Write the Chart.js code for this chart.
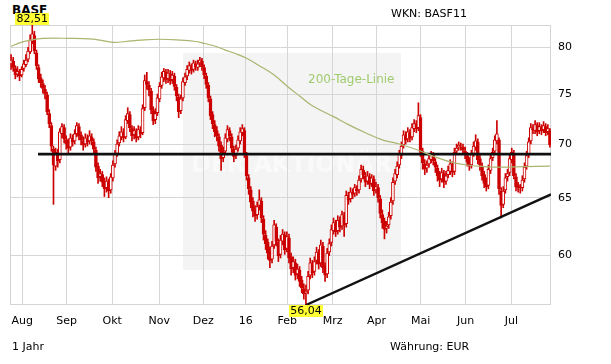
<!DOCTYPE html>
<html>
<head>
<meta charset="utf-8">
<script src="https://cdn.jsdelivr.net/npm/chart.js@4.4.0/dist/chart.umd.min.js"></script>
<style>
  body { margin: 0; background: #fff; }
  #wrap { position: relative; width: 611px; height: 364px; font-family: "DejaVu Sans", Verdana, sans-serif; }
  #chart { position: absolute; left: 0; top: 0; z-index: 1; }
  .txt { position: absolute; font-size: 11px; line-height: 13px; color: #000; white-space: nowrap; z-index: 2; }
</style>
</head>
<body>
<div id="wrap">
  <div class="txt" style="left:12px;top:4px;font-weight:bold;font-size:12px;z-index:0">BASF</div>
  <canvas id="chart" width="611" height="364"></canvas>
  <div class="txt" style="left:391px;top:7px">WKN: BASF11</div>
  <div class="txt" style="left:308px;top:72px;font-size:12px;line-height:15px;color:#9fcb6e">200-Tage-Linie</div>
  <div class="txt" style="left:12px;top:340px">1 Jahr</div>
  <div class="txt" style="left:390px;top:340px">Währung: EUR</div>
</div>
<script>
// Tageskerzen (Handelstage Ende Juli 2015 bis Mitte Juli 2016)
const eroeffnung = [
  78.2, 78.5, 77.7, 77.1, 77.3, 77.0, 77.7, 78.1, 78.7, 79.5, 80.7, 81.3, 79.4, 77.8, 76.7,
  76.1, 75.5, 74.9, 73.0, 71.8, 69.5, 67.9, 69.1, 68.5, 71.0, 71.6, 70.4, 70.1, 69.7, 70.5,
  70.3, 71.0, 71.7, 70.9, 70.3, 70.0, 70.5, 70.3, 70.7, 70.2, 69.4, 67.9, 66.9, 67.1, 66.5,
  65.9, 66.4, 65.7, 66.8, 68.1, 69.1, 70.1, 70.7, 71.1, 70.7, 72.3, 72.9, 71.5, 70.9, 71.2,
  70.7, 71.3, 71.1, 73.6, 76.3, 75.9, 75.3, 73.3, 72.4, 73.1, 74.5, 75.9, 76.7, 77.3, 76.6,
  77.1, 76.5, 76.9, 75.7, 74.7, 73.3, 74.6, 76.2, 76.9, 77.5, 77.9, 77.6, 78.2, 77.8, 78.3,
  78.5, 77.8, 76.9, 75.9, 74.5, 72.9, 71.9, 71.3, 70.7, 69.9, 68.7, 69.3, 70.5, 71.3, 70.7,
  69.5, 68.9, 69.6, 70.3, 71.1, 71.3, 68.9, 66.8, 65.7, 64.7, 63.9, 63.5, 64.3, 64.7, 63.1,
  61.7, 61.1, 60.3, 59.7, 60.9, 62.4, 61.1, 60.1, 61.2, 61.7, 60.6, 61.5, 59.9, 59.0, 59.4,
  58.5, 58.8, 58.0, 57.3, 57.0, 57.2, 58.4, 59.3, 58.7, 59.6, 60.2, 59.4, 60.8, 59.1, 58.5,
  60.3, 61.1, 62.1, 62.7, 62.1, 62.9, 62.5, 63.4, 62.7, 65.1, 64.9, 65.4, 65.4, 65.8, 65.7,
  66.7, 67.5, 67.0, 66.5, 66.9, 66.3, 66.7, 65.7, 65.9, 64.9, 63.5, 62.9, 62.3, 62.6, 63.4,
  64.7, 66.5, 67.1, 68.0, 68.9, 69.9, 70.8, 70.5, 71.1, 70.7, 71.5, 71.9, 71.6, 72.6, 69.3,
  68.1, 67.7, 68.1, 68.5, 68.9, 68.3, 67.7, 67.1, 66.7, 67.2, 66.5, 67.1, 67.4, 68.0, 67.4,
  69.3, 69.7, 69.8, 69.7, 69.3, 68.9, 68.4, 68.0, 69.1, 69.7, 70.2, 68.6, 67.9, 67.1, 66.4,
  66.1, 67.5, 68.7, 69.3, 70.3, 70.4, 65.6, 64.4, 65.7, 66.9, 67.3, 68.5, 69.1, 66.9, 66.1,
  65.8, 65.9, 66.7, 67.9, 69.0, 70.3, 71.5, 71.3, 71.8, 71.3, 71.6, 71.4, 71.7, 71.2, 71.3
];
const hoch = [
  79.2, 78.9, 78.0, 77.9, 77.6, 77.9, 78.6, 79.2, 80.0, 81.4, 82.51, 81.8, 79.7, 78.1, 77.1,
  76.5, 75.9, 75.2, 73.4, 72.1, 69.8, 69.6, 69.5, 71.5, 72.0, 71.9, 70.8, 70.5, 71.0, 70.9,
  71.4, 72.1, 72.0, 71.2, 70.7, 71.0, 70.9, 71.3, 71.0, 70.5, 69.7, 68.2, 67.6, 67.4, 66.8,
  66.9, 66.7, 67.2, 68.4, 69.4, 70.4, 71.2, 71.7, 71.5, 72.8, 73.6, 73.2, 71.8, 71.7, 71.5,
  71.8, 71.7, 73.9, 77.0, 77.3, 76.3, 75.6, 73.7, 73.5, 75.0, 76.2, 77.3, 77.7, 77.6, 77.6,
  77.5, 77.4, 77.2, 76.0, 75.0, 74.9, 76.7, 77.2, 78.0, 78.4, 78.2, 78.6, 78.5, 78.6, 78.9,
  78.8, 78.1, 77.2, 76.2, 74.8, 73.2, 72.3, 71.7, 71.0, 70.2, 69.7, 71.0, 71.8, 71.6, 71.0,
  69.8, 69.9, 70.8, 71.6, 71.9, 71.6, 69.2, 67.1, 66.0, 65.0, 64.3, 64.6, 65.7, 65.0, 63.4,
  62.1, 61.4, 60.7, 61.2, 63.0, 62.7, 61.4, 61.7, 62.2, 62.0, 62.0, 61.8, 60.2, 59.9, 59.7,
  59.3, 59.1, 58.3, 57.7, 57.6, 58.7, 59.8, 59.6, 59.9, 60.7, 60.5, 61.3, 61.1, 59.4, 60.6,
  61.4, 62.6, 63.2, 63.0, 63.4, 63.3, 63.8, 63.7, 65.6, 65.5, 65.9, 65.8, 66.2, 66.1, 67.0,
  68.0, 67.9, 67.3, 67.4, 67.2, 67.1, 67.0, 66.4, 66.2, 65.2, 63.9, 63.2, 62.9, 63.7, 65.0,
  66.8, 67.6, 68.3, 69.4, 70.2, 71.3, 71.2, 71.6, 71.4, 72.0, 72.4, 72.3, 74.1, 72.9, 69.6,
  68.5, 68.4, 69.0, 69.3, 69.2, 68.6, 68.0, 67.4, 67.7, 67.5, 67.4, 67.9, 68.5, 68.3, 69.6,
  70.0, 70.2, 70.1, 70.0, 69.7, 69.2, 68.7, 69.4, 70.2, 70.9, 70.5, 68.9, 68.2, 67.4, 66.8,
  68.0, 69.0, 69.6, 70.8, 72.3, 70.6, 65.9, 66.0, 67.2, 67.6, 69.0, 69.6, 69.4, 67.2, 66.4,
  66.2, 67.0, 68.2, 69.3, 70.6, 72.0, 71.9, 72.3, 72.1, 72.1, 71.9, 72.2, 72.0, 71.9, 71.5
];
const tief = [
  77.6, 77.4, 76.6, 76.8, 76.4, 76.8, 77.4, 77.9, 78.4, 79.3, 80.4, 79.3, 77.6, 76.2, 75.7,
  75.1, 74.5, 72.9, 71.6, 69.3, 64.4, 67.5, 67.8, 68.2, 70.6, 70.1, 69.5, 69.1, 69.4, 69.8,
  70.0, 70.7, 70.4, 69.9, 69.4, 69.7, 69.8, 70.0, 69.9, 69.1, 67.4, 66.3, 66.5, 66.0, 65.1,
  65.5, 65.0, 65.4, 66.5, 67.8, 68.8, 69.8, 70.4, 70.2, 70.5, 72.0, 71.2, 70.3, 70.5, 70.2,
  70.4, 70.6, 70.9, 73.3, 75.5, 74.8, 73.0, 71.9, 72.0, 72.8, 74.2, 75.6, 76.3, 76.1, 76.2,
  76.0, 76.1, 75.4, 74.3, 72.6, 73.0, 74.3, 75.9, 76.5, 77.2, 77.1, 77.3, 77.5, 77.5, 77.9,
  77.5, 76.6, 75.6, 74.2, 72.4, 71.5, 70.7, 70.3, 69.3, 67.5, 68.3, 69.0, 70.2, 70.3, 69.2,
  68.3, 68.6, 69.3, 70.0, 70.8, 68.7, 66.6, 65.3, 64.1, 63.3, 62.9, 63.1, 63.9, 62.8, 61.3,
  60.5, 59.7, 59.0, 59.4, 60.6, 60.8, 59.5, 59.8, 60.9, 60.1, 60.3, 59.4, 58.4, 58.6, 58.0,
  58.1, 57.5, 57.0, 56.5, 56.04, 56.9, 58.1, 58.2, 58.4, 59.3, 58.9, 59.1, 58.6, 57.9, 58.2,
  60.0, 60.8, 61.8, 61.6, 61.8, 62.0, 62.2, 61.6, 62.4, 64.4, 64.6, 64.9, 65.1, 65.2, 65.4,
  66.4, 66.7, 66.0, 66.2, 65.8, 66.0, 65.2, 65.4, 64.6, 63.2, 62.3, 61.4, 61.9, 62.3, 63.1,
  64.4, 66.2, 66.8, 67.7, 68.6, 69.6, 70.0, 70.2, 70.2, 70.4, 71.2, 71.1, 71.3, 68.8, 67.6,
  67.1, 67.3, 67.8, 68.2, 68.0, 67.3, 66.5, 66.0, 66.4, 65.9, 66.2, 66.8, 67.1, 66.9, 67.1,
  69.0, 69.4, 69.4, 69.0, 68.6, 67.9, 67.5, 67.7, 68.8, 69.4, 68.1, 67.5, 66.6, 65.9, 65.6,
  65.8, 67.2, 68.4, 69.0, 70.0, 65.3, 63.2, 64.1, 65.4, 66.5, 67.0, 68.2, 66.7, 65.6, 65.5,
  65.4, 65.6, 66.4, 67.6, 68.7, 70.0, 71.0, 71.0, 70.8, 71.0, 70.9, 71.1, 70.8, 70.9, 69.7
];
const schluss = [
  78.6, 77.8, 77.0, 77.4, 76.9, 77.6, 78.2, 78.6, 79.6, 80.8, 81.5, 79.6, 78.0, 76.6, 76.2,
  75.6, 75.0, 73.2, 72.0, 69.8, 68.0, 69.2, 68.4, 71.2, 71.7, 70.5, 70.0, 69.6, 70.6, 70.2,
  71.0, 71.8, 70.8, 70.4, 69.9, 70.6, 70.2, 70.8, 70.3, 69.5, 67.8, 66.8, 67.2, 66.4, 65.8,
  66.5, 65.6, 66.9, 68.0, 69.0, 70.0, 70.8, 71.2, 70.6, 72.4, 73.0, 71.6, 70.8, 71.3, 70.6,
  71.4, 71.0, 73.5, 76.4, 76.0, 75.4, 73.4, 72.3, 73.0, 74.6, 75.8, 76.8, 77.4, 76.5, 77.2,
  76.4, 77.0, 75.8, 74.8, 73.2, 74.5, 76.3, 76.8, 77.6, 78.0, 77.5, 78.3, 77.9, 78.2, 78.6,
  77.9, 77.0, 76.0, 74.6, 72.8, 72.0, 71.2, 70.8, 69.8, 68.6, 69.2, 70.6, 71.4, 70.8, 69.6,
  68.8, 69.5, 70.4, 71.2, 71.5, 69.0, 67.0, 65.8, 64.6, 63.8, 63.4, 64.2, 64.8, 63.2, 61.8,
  61.0, 60.2, 59.6, 60.8, 62.6, 61.2, 60.0, 61.3, 61.8, 60.5, 61.6, 59.8, 58.9, 59.5, 58.4,
  58.9, 57.9, 57.4, 56.9, 57.1, 58.3, 59.4, 58.6, 59.5, 60.3, 59.3, 60.9, 59.0, 58.4, 60.2,
  61.0, 62.2, 62.8, 62.0, 63.0, 62.4, 63.5, 62.6, 65.2, 64.8, 65.5, 65.3, 65.9, 65.6, 66.6,
  67.6, 67.1, 66.4, 67.0, 66.2, 66.8, 65.6, 66.0, 65.0, 63.6, 62.8, 62.2, 62.5, 63.3, 64.6,
  66.4, 67.2, 67.9, 69.0, 69.8, 70.9, 70.4, 71.2, 70.6, 71.6, 72.0, 71.5, 72.8, 69.2, 68.2,
  67.6, 68.0, 68.6, 69.0, 68.4, 67.8, 67.0, 66.6, 67.3, 66.4, 67.0, 67.5, 68.1, 67.3, 69.2,
  69.6, 69.9, 69.8, 69.4, 69.0, 68.3, 67.9, 69.0, 69.8, 70.3, 68.5, 68.0, 67.0, 66.3, 66.0,
  67.6, 68.6, 69.2, 70.4, 71.0, 65.8, 64.3, 65.6, 66.8, 67.2, 68.6, 69.2, 67.0, 66.0, 65.9,
  65.8, 66.6, 67.8, 68.9, 70.2, 71.6, 71.4, 71.9, 71.2, 71.7, 71.3, 71.8, 71.1, 71.5, 69.9
];

// 200-Tage-Linie (Stuetzstellen: Handelstag, Wert)
const gd200Tag = [0, 4, 9, 15, 28, 37, 42, 48, 54, 61, 70, 80, 87, 90, 96, 101, 106, 111, 117,
  124, 130, 136, 142, 152, 159, 167, 175, 183, 192, 200, 207, 215, 223, 231, 242, 254];
const gd200 = [80.1, 80.5, 80.8, 81.0, 81.0, 80.95, 80.8, 80.55, 80.65, 80.8, 80.9, 80.8, 80.65,
  80.5, 80.15, 79.7, 79.3, 78.8, 78.0, 77.0, 75.85, 74.8, 73.8, 72.7, 71.9, 71.1, 70.4, 70.0,
  69.4, 68.75, 68.3, 68.0, 67.85, 67.8, 67.85, 67.9];

// Linien im Chart
const horizontTag = [12.7, 254.5];
const horizontWert = [69.03, 69.03];
const trendTag = [139, 254.5];
const trendWert = [56.04, 65.3];

// Achsen
const monate = ['Aug', 'Sep', 'Okt', 'Nov', 'Dez', '16', 'Feb', 'Mrz', 'Apr', 'Mai', 'Jun', 'Jul'];
const monatsTag = [5.3, 26.2, 47.7, 69.9, 90.6, 110.6, 130.2, 151.6, 172.3, 193.1, 214.3, 235.8];
const yTicks = [60, 65, 70, 75, 80];

const rot = '#cc0000';
const tage = schluss.map((_, i) => i);

function markierung(ctx, text, x, y, oben) {
  ctx.font = '11px "DejaVu Sans"';
  const w = Math.ceil(ctx.measureText(text).width) + 2;
  const h = 12;
  const top = oben ? y - h : y;
  ctx.fillStyle = '#ffff33';
  ctx.fillRect(Math.round(x - w / 2), top, w, h);
  ctx.fillStyle = '#000';
  ctx.textAlign = 'center';
  ctx.textBaseline = 'middle';
  ctx.fillText(text, x, top + h / 2 + 0.5);
}

const deko = {
  id: 'deko',
  beforeDraw(chart) {
    const ctx = chart.ctx;
    ctx.save();
    // Wasserzeichen
    ctx.fillStyle = '#f4f4f4';
    ctx.fillRect(183, 53, 218, 217);
    ctx.font = 'bold 24px "DejaVu Sans"';
    const w = ctx.measureText('DER AKTIONÄR').width;
    ctx.translate(191, 172);
    ctx.scale(201 / w, 1);
    ctx.fillStyle = '#fafafa';
    ctx.fillText('DER AKTIONÄR', 0, 0);
    ctx.restore();
  },
  beforeDatasetsDraw(chart) {
    const { ctx, chartArea: a } = chart;
    ctx.save();
    ctx.strokeStyle = '#d4d4d4';
    ctx.lineWidth = 1;
    ctx.strokeRect(a.left + 0.5, a.top + 0.5, a.width - 1, a.height - 1);
    ctx.restore();
  },
  afterDraw(chart) {
    const ctx = chart.ctx;
    const xs = chart.scales.x, ys = chart.scales.y;
    const max = Math.max(...hoch), min = Math.min(...tief);
    const iMax = hoch.indexOf(max), iMin = tief.indexOf(min);
    ctx.save();
    markierung(ctx, max.toFixed(2).replace('.', ','), xs.getPixelForValue(iMax), ys.getPixelForValue(max), true);
    markierung(ctx, min.toFixed(2).replace('.', ','), xs.getPixelForValue(iMin), ys.getPixelForValue(min), false);
    ctx.restore();
  }
};

new Chart(document.getElementById('chart'), {
  type: 'bar',
  data: {
    datasets: [
      {
        type: 'line',
        data: gd200Tag.map((t, i) => ({ x: t, y: gd200[i] })),
        borderColor: '#a9b56f',
        borderWidth: 1.2,
        pointRadius: 0,
        tension: 0.4,
        order: 0
      },
      {
        type: 'line',
        data: horizontTag.map((t, i) => ({ x: t, y: horizontWert[i] })),
        borderColor: '#111',
        borderWidth: 2.6,
        pointRadius: 0,
        order: 0
      },
      {
        type: 'line',
        data: trendTag.map((t, i) => ({ x: t, y: trendWert[i] })),
        borderColor: '#111',
        borderWidth: 2.4,
        pointRadius: 0,
        order: 0
      },
      {
        data: tage.map(i => ({ x: i, y: [eroeffnung[i], schluss[i]] })),
        backgroundColor: tage.map(i => schluss[i] >= eroeffnung[i] ? '#ffffff' : rot),
        borderColor: rot,
        borderWidth: 1,
        borderSkipped: false,
        barThickness: 3,
        grouped: false,
        order: 1
      },
      {
        data: tage.map(i => ({ x: i, y: [tief[i], hoch[i]] })),
        backgroundColor: rot,
        borderWidth: 0,
        barThickness: 1,
        grouped: false,
        order: 2
      }
    ]
  },
  options: {
    responsive: false,
    animation: false,
    devicePixelRatio: 1,
    layout: { padding: { left: 10, top: 25, right: 0, bottom: 0 } },
    plugins: { legend: { display: false }, tooltip: { enabled: false } },
    scales: {
      x: {
        type: 'linear',
        offset: false,
        min: -0.5,
        max: schluss.length - 0.5,
        grid: { color: '#d6d6d6', drawTicks: false, offset: false },
        border: { display: false },
        ticks: {
          autoSkip: false,
          maxRotation: 0,
          padding: 10,
          color: '#000',
          font: { family: 'DejaVu Sans', size: 11 },
          callback: (v, i) => monate[i]
        },
        afterBuildTicks: s => { s.ticks = monatsTag.map(v => ({ value: v })); },
        afterFit: s => { s.height = 59; }
      },
      y: {
        type: 'logarithmic',
        position: 'right',
        min: 56.04,
        max: 82.51,
        grid: { color: '#d6d6d6', drawTicks: false },
        border: { display: false },
        ticks: {
          padding: 7,
          color: '#000',
          font: { family: 'DejaVu Sans', size: 11 },
          callback: v => String(v)
        },
        afterBuildTicks: s => { s.ticks = yTicks.map(v => ({ value: v })); },
        afterFit: s => { s.width = 60; }
      }
    }
  },
  plugins: [deko]
});
</script>
</body>
</html>
